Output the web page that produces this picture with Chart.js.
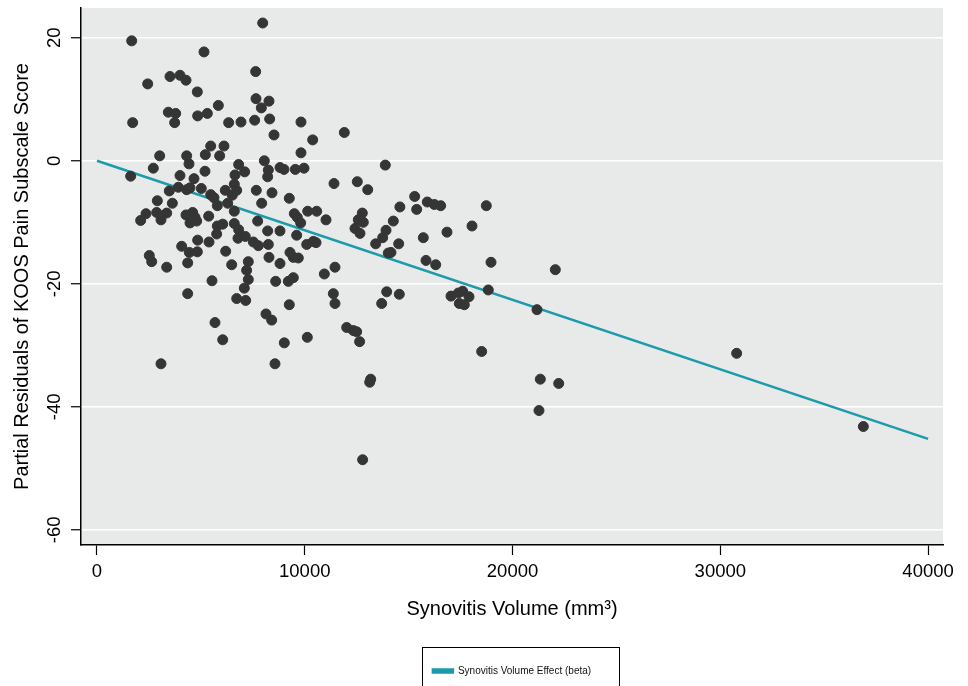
<!DOCTYPE html>
<html>
<head>
<meta charset="utf-8">
<title>Synovitis Volume vs KOOS Pain</title>
<script src="https://cdn.jsdelivr.net/npm/chart.js@4.4.0/dist/chart.umd.min.js"></script>
<style>
  html, body { margin: 0; padding: 0; background: #fff; overflow: hidden; }
  #wrap { width: 968px; height: 686px; position: relative; }
</style>
</head>
<body>
<div id="wrap"><canvas id="residualChart"></canvas></div>
<script>
// Synovitis volume (mm^3) for each participant
const synovitisVolume = [
  7975, 1670, 5150, 7637, 3514, 3995, 4284, 2440, 4828, 7653,
  8278, 7909, 5840, 3433, 3787, 3738, 4845, 5310, 1717, 6337,
  6930, 7588, 8310, 8520, 9818, 10380, 5472, 6112, 5214, 5904,
  3017, 4316, 4428, 9818, 8054, 2711, 1620, 6818, 7106, 6642,
  5198, 3995, 4669, 8246, 8214, 8808, 9000, 9544, 9963, 11407,
  3913, 3480, 4316, 5020, 6175, 6608, 6724, 5472, 7667, 8423,
  9255, 4476, 5631, 5791, 6512, 6290, 6608, 7926, 2904, 3627,
  2358, 2102, 2873, 3080, 3355, 4284, 4605, 4717, 4476, 4797,
  5375, 5791, 6050, 5760, 6608, 6818, 6786, 7138, 7733, 7525,
  7765, 8214, 8808, 8246, 9497, 9641, 9802, 10141, 10574, 11022,
  9610, 10093, 10413, 10542, 9289, 9449, 9689, 8278, 8808, 11455,
  10942, 4845, 5391, 4076, 4444, 4829, 6194, 2517, 2633, 3355,
  4365, 6483, 7282, 7202, 7282, 7090, 5535, 8600, 9207, 9449,
  4365, 6724, 7157, 9255, 11375, 11455, 8134, 8407, 5679, 6050,
  9015, 10122, 3080, 8567, 11903, 13876, 12528, 13030, 15290, 15897,
  16234, 16542, 18737, 14578, 15387, 12769, 12576, 12817, 12417, 12657,
  14261, 13910, 13750, 13413, 14520, 14150, 14021, 15705, 16845, 18049,
  15835, 16302, 18964, 22059, 13943, 14549, 13702, 17038, 17391, 17600,
  17904, 17438, 17679, 18833, 21177, 12018, 12336, 12497, 12640, 18515,
  13173, 13125, 21337, 22222, 21273, 12785, 30787, 36883
];

// Partial residuals of KOOS pain subscale score
const painResidual = [
  22.4, 19.5, 17.7, 14.5, 13.7, 13.9, 13.1, 12.5, 11.2, 10.1,
  9.7, 8.6, 9.0, 7.9, 7.7, 6.2, 7.3, 7.7, 6.2, 6.2,
  6.3, 6.6, 6.8, 4.2, 6.3, 3.4, 2.4, 2.4, 1.0, 0.8,
  0.8, 0.8, -0.5, 1.3, 0.0, -1.2, -2.5, -0.6, -1.8, -2.3,
  -1.7, -2.4, -2.9, -1.5, -2.6, -1.1, -1.4, -1.4, -1.2, -3.7,
  -4.3, -4.9, -4.7, -4.5, -4.8, -3.8, -4.8, -5.5, -4.8, -5.2,
  -6.1, -4.4, -6.0, -7.3, -5.6, -6.9, -8.2, -6.9, -6.5, -6.9,
  -8.6, -9.7, -8.4, -9.6, -8.5, -8.8, -8.4, -9.2, -10.1, -9.8,
  -9.0, -10.6, -10.3, -11.9, -10.2, -11.2, -12.6, -12.3, -9.8, -13.2,
  -13.8, -11.4, -11.4, -13.6, -8.6, -9.2, -10.1, -8.2, -8.2, -9.6,
  -12.1, -13.6, -13.1, -13.3, -14.9, -15.7, -15.8, -15.7, -16.7, -17.3,
  -18.4, -12.9, -13.2, -13.9, -14.9, -14.8, -14.7, -15.4, -16.4, -17.3,
  -16.6, -16.9, -16.4, -17.8, -19.3, -20.7, -19.5, -19.6, -19.6, -19.0,
  -21.6, -22.4, -22.7, -23.4, -21.6, -23.2, -24.9, -25.9, -26.3, -29.1,
  -29.6, -28.7, -33.0, -33.0, 4.6, -0.7, -3.4, -4.7, -5.8, -6.7,
  -7.1, -7.3, -7.3, -7.5, -7.9, -8.5, -9.6, -10.0, -11.0, -11.8,
  -9.8, -11.3, -12.5, -13.5, -13.5, -14.9, -15.0, -12.5, -11.6, -10.6,
  -16.2, -16.9, -16.5, -17.7, -21.3, -21.7, -23.2, -22.0, -21.5, -21.2,
  -22.1, -23.2, -23.4, -21.0, -24.2, -27.1, -27.6, -27.8, -29.4, -31.0,
  -35.5, -36.0, -35.5, -36.2, -40.6, -48.6, -31.3, -43.2
];

// Fitted effect line (beta)
const effectX = [0, 40000];
const effectY = [0, -45.2];

// Tick labels
const xTicks = [0, 10000, 20000, 30000, 40000];
const yTicks = [-60, -40, -20, 0, 20];

const fontFamily = '"Liberation Sans", Arial, Helvetica, sans-serif';
const plotBg = '#e8eaea';
const tealLine = '#1b9bab';
const dotColor = '#353535';

// Shade the plot region grey like the Stata s2color scheme
const plotBackground = {
    id: 'plotBackground',
    beforeDraw(chart) {
        const { ctx, chartArea } = chart;
        ctx.save();
        ctx.fillStyle = plotBg;
        ctx.fillRect(chartArea.left, chartArea.top, chartArea.right - chartArea.left, chartArea.bottom - chartArea.top);
        ctx.restore();
    }
};

// Draw the frame around the legend
const legendFrame = {
    id: 'legendFrame',
    afterDraw(chart) {
        const lg = chart.legend;
        if (!lg || !lg.legendHitBoxes || !lg.legendHitBoxes.length) return;
        const hb = lg.legendHitBoxes[0];
        const { ctx } = chart;
        ctx.save();
        ctx.strokeStyle = '#000';
        ctx.lineWidth = 1;
        const left = Math.round(hb.left - 11) + 0.5;
        const right = Math.round(hb.left + hb.width + 28) + 0.5;
        ctx.strokeRect(left, Math.round(lg.top) - 0.5, right - left, 60);
        ctx.restore();
    }
};

const scatterPoints = synovitisVolume.map((v, i) => ({ x: v, y: painResidual[i] }));
const linePoints = effectX.map((v, i) => ({ x: v, y: effectY[i] }));

const ctx = document.getElementById('residualChart').getContext('2d');
const residualChart = new Chart(ctx, {
    type: 'scatter',
    data: {
        datasets: [
            {
                label: 'Partial residuals',
                data: scatterPoints,
                backgroundColor: dotColor,
                borderColor: dotColor,
                pointRadius: 5,
                pointHoverRadius: 5,
                order: 0
            },
            {
                type: 'line',
                label: 'Synovitis Volume Effect (beta)',
                data: linePoints,
                borderColor: tealLine,
                backgroundColor: tealLine,
                borderWidth: 2.5,
                pointRadius: 0,
                fill: false,
                order: 1
            }
        ]
    },
    options: {
        responsive: true,
        maintainAspectRatio: false,
        animation: false,
        layout: { padding: { top: 8, right: 25, left: 0, bottom: 0 } },
        plugins: {
            tooltip: { enabled: false },
            legend: {
                position: 'bottom',
                fullSize: false,
                labels: {
                    filter: item => item.datasetIndex === 1,
                    boxWidth: 20,
                    boxHeight: 3,
                    padding: 18,
                    color: '#111',
                    font: { family: fontFamily, size: 10 }
                }
            }
        },
        scales: {
            x: {
                type: 'linear',
                min: -770,
                max: 40718,
                afterBuildTicks: scale => { scale.ticks = xTicks.map(v => ({ value: v })); },
                afterFit: scale => { scale.height = 103; },
                grid: {
                    drawOnChartArea: false,
                    drawTicks: true,
                    tickLength: 10,
                    tickColor: '#000',
                    tickWidth: 1.2
                },
                border: { display: true, color: '#000', width: 1.5 },
                ticks: {
                    padding: 6,
                    color: '#000',
                    maxRotation: 0,
                    font: { family: fontFamily, size: 18.5 },
                    callback: v => String(v)
                },
                title: {
                    display: true,
                    text: 'Synovitis Volume (mm³)',
                    color: '#000',
                    font: { family: fontFamily, size: 20 },
                    padding: { top: 0, bottom: 27 }
                }
            },
            y: {
                type: 'linear',
                min: -62.46,
                max: 24.84,
                afterBuildTicks: scale => { scale.ticks = yTicks.map(v => ({ value: v })); },
                afterFit: scale => {
                    scale.width = 81;
                    scale.paddingTop = 0;
                    scale.paddingBottom = 0;
                },
                grid: {
                    color: '#ffffff',
                    lineWidth: 1.5,
                    drawTicks: true,
                    tickLength: 10,
                    tickColor: '#000',
                    tickWidth: 1.2
                },
                border: { display: true, color: '#000', width: 1.5 },
                ticks: {
                    minRotation: 90,
                    maxRotation: 90,
                    crossAlign: 'center',
                    padding: 3,
                    color: '#000',
                    font: { family: fontFamily, size: 18.5 },
                    callback: v => String(v)
                },
                title: {
                    display: true,
                    text: 'Partial Residuals of KOOS Pain Subscale Score',
                    color: '#000',
                    font: { family: fontFamily, size: 20 },
                    padding: { top: 10, bottom: 0 }
                }
            }
        }
    },
    plugins: [plotBackground, legendFrame]
});
</script>
</body>
</html>
